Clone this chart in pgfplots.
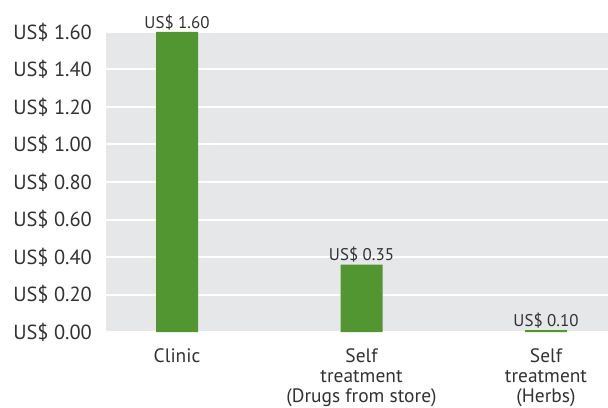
\documentclass[border=0pt]{standalone}
\usepackage{pgfplots}
\pgfplotsset{compat=1.18}
\usepackage{pgfplotstable}
\usepackage{fontspec}
\setmainfont{PT Sans}
\definecolor{barg}{RGB}{82,150,50}
\definecolor{bg}{RGB}{230,231,232}
\definecolor{txt}{RGB}{50,50,50}
\pgfplotstableread{
x y label
0 1.60 {US\$ 1.60}
1 0.36 {US\$ 0.35}
2 0.01 {US\$ 0.10}
}\costs
\begin{document}
\begin{tikzpicture}
\begin{axis}[
  scale only axis, width=502bp, height=300bp,
  xmin=-0.385, xmax=2.336, ymin=0, ymax=1.6,
  ytick={0,0.2,0.4,0.6,0.8,1.0,1.2,1.4,1.6},
  yticklabels={US\$ 0.00,US\$ 0.20,US\$ 0.40,US\$ 0.60,US\$ 0.80,US\$ 1.00,US\$ 1.20,US\$ 1.40,US\$ 1.60},
  xtick={0,1,2},
  xticklabels={Clinic,Self\\treatment\\(Drugs from store),Self\\treatment\\(Herbs)},
  xticklabel style={align=center, font=\fontsize{19.5}{20.5}\selectfont, text=txt, anchor=north, inner sep=0pt, yshift=-16bp},
  yticklabel style={font=\fontsize{20.5}{24}\selectfont, text=txt, anchor=east, inner sep=0pt, xshift=-14bp},
  axis line style={draw=none}, major tick length=0pt,
  ymajorgrids, grid style={white, line width=2bp},
  axis background/.style={fill=bg},
  ybar, bar width=42bp,
  nodes near coords, point meta=explicit symbolic,
  nodes near coords style={font=\fontsize{17}{20}\selectfont, text=txt, anchor=south, inner sep=2bp},
]
\addplot[fill=barg, draw=none] table[x=x, y=y, meta=label] {\costs};
\end{axis}
\pgfresetboundingbox
\path (current axis.south west) ++(-106bp,332bp) rectangle ++(608bp,-408bp);
\end{tikzpicture}
\end{document}
